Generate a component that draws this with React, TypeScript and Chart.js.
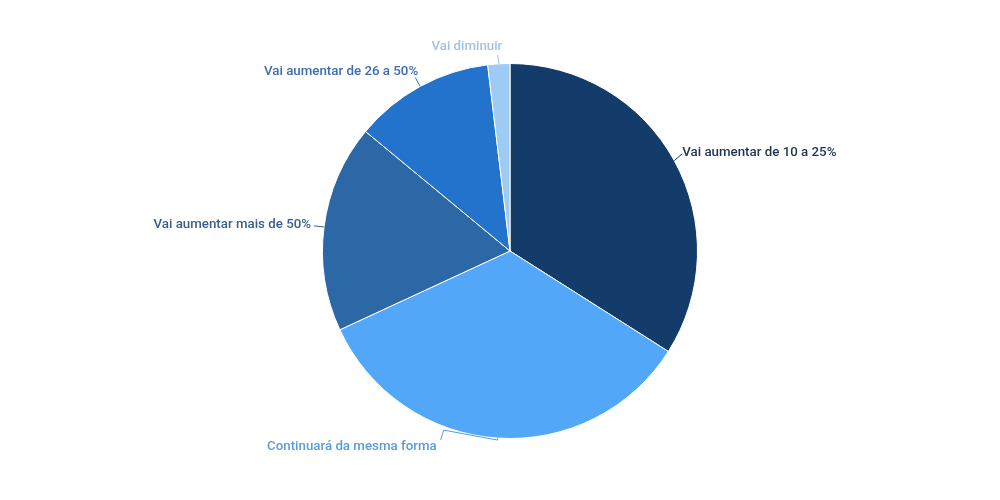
import { Chart, registerables, type ChartConfiguration, type Plugin } from "chart.js";
import * as React from "react";

Chart.register(...registerables);

const categories = [
  "Vai aumentar de 10 a 25%",
  "Continuará da mesma forma",
  "Vai aumentar mais de 50%",
  "Vai aumentar de 26 a 50%",
  "Vai diminuir",
];
const shares = [34, 34.1, 17.9, 12.1, 1.9];
const sliceColors = ["#133C6A", "#52A7F9", "#2C67A6", "#2372CC", "#9ECBF4"];
const labelColors = ["#1C3553", "#5A9BE0", "#3A5F8C", "#3B6DB5", "#A2C3E6"];

// posição do rótulo relativa ao ponto da borda (dx, dy, alinhamento, curva do conector)
const labelLayout = [
  { dx: 8, dy: -8, align: "left", crook: [[8, -7]] },
  { dx: -61, dy: 8.5, align: "right", crook: [[0, 2], [-54, -8], [-57, 2]] },
  { dx: -13, dy: -2, align: "right", crook: [[-10, -1]] },
  { dx: -2, dy: -15, align: "right", crook: [[-5, -9]] },
  { dx: 3.5, dy: -17, align: "right", crook: [[-1, -9]] },
] as const;

const outsideLabels: Plugin<"pie"> = {
  id: "outsideLabels",
  afterDatasetsDraw(chart) {
    const ctx = chart.ctx;
    const meta = chart.getDatasetMeta(0);
    ctx.save();
    ctx.font = "500 13.3px Roboto";
    ctx.textBaseline = "middle";
    meta.data.forEach((el: any, i: number) => {
      const mid = (el.startAngle + el.endAngle) / 2;
      const ex = el.x + el.outerRadius * Math.cos(mid);
      const ey = el.y + el.outerRadius * Math.sin(mid);
      const lay = labelLayout[i];
      ctx.strokeStyle = labelColors[i];
      ctx.lineWidth = 1;
      ctx.beginPath();
      ctx.moveTo(ex, ey);
      lay.crook.forEach(([cx, cy]) => ctx.lineTo(ex + cx, ey + cy));
      ctx.stroke();
      ctx.fillStyle = labelColors[i];
      ctx.textAlign = lay.align;
      ctx.fillText(categories[i], ex + lay.dx, ey + lay.dy);
    });
    ctx.restore();
  },
};

export default function App() {
  const canvasRef = React.useRef<HTMLCanvasElement>(null);

  React.useEffect(() => {
    if (!canvasRef.current) return;
    const config: ChartConfiguration<"pie"> = {
      type: "pie",
      data: {
        labels: categories,
        datasets: [
          {
            data: shares,
            backgroundColor: sliceColors,
            borderColor: "#ffffff",
            borderWidth: 1,
          },
        ],
      },
      options: {
        animation: false,
        responsive: true,
        maintainAspectRatio: false,
        layout: { padding: { top: 63, bottom: 61, left: 20, right: 0 } },
        plugins: {
          legend: { display: false },
          tooltip: { enabled: false },
        },
      },
      plugins: [outsideLabels],
    };
    const chart = new Chart(canvasRef.current, config);
    return () => chart.destroy();
  }, []);

  return (
    <div
      style={{
        position: "absolute",
        left: 0,
        top: 0,
        width: 1000,
        height: 500,
        background: "#ffffff",
      }}
    >
      <canvas ref={canvasRef} />
    </div>
  );
}
